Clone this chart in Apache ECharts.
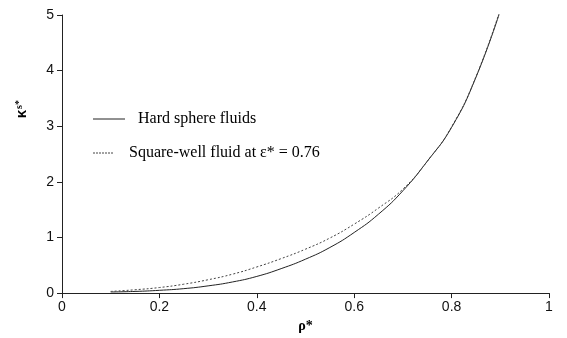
<!DOCTYPE html>
<html><head><meta charset="utf-8">
<script src="https://cdn.jsdelivr.net/npm/echarts@6/dist/echarts.min.js"></script>
<style>html,body{margin:0;padding:0;background:#fff}#c{width:567px;height:338px}</style>
</head><body><div id="c"></div>
<script>
var rho = [0.1,0.15,0.2,0.25,0.3,0.35,0.4,0.45,0.5,0.55,0.6,0.65,0.7,0.75,0.8,0.85,0.9];
var hardSphere = [0.02,0.03,0.05,0.08,0.13,0.20,0.30,0.44,0.61,0.82,1.09,1.42,1.84,2.37,2.98,3.88,5.08];
var squareWell = [0.03,0.06,0.10,0.16,0.24,0.34,0.47,0.62,0.79,0.99,1.24,1.53,1.87,2.37,2.99,3.89,5.10];
var xTicks = [0,0.2,0.4,0.6,0.8,1];
var yTicks = [0,1,2,3,4,5];
var names = ['Hard sphere fluids','Square-well fluid at \u03b5* = 0.76'];

function pairs(xs, ys){ return xs.map(function(x,i){return [x, ys[i]];}); }
var chart = echarts.init(document.getElementById('c'));
chart.setOption({
  animation:false,
  backgroundColor:'#fff',
  grid:{left:62,right:18,top:15,bottom:40},
  xAxis:{type:'value',min:0,max:1,interval:0.2,
    name:'\u03c1*',nameLocation:'middle',nameGap:20,
    nameTextStyle:{fontFamily:'Liberation Serif',fontWeight:'bold',fontSize:14,color:'#000'},
    axisLine:{lineStyle:{color:'#222',width:1}},
    axisTick:{show:true,inside:false,length:5,lineStyle:{color:'#222'}},
    axisLabel:{fontFamily:'Liberation Sans',fontSize:14,color:'#111',margin:7,
      formatter:function(v){return xTicks.indexOf(v)>=0?String(v):'';}},
    splitLine:{show:false}},
  yAxis:{type:'value',min:0,max:5,interval:1,
    axisLine:{show:true,lineStyle:{color:'#222',width:1}},
    axisTick:{show:true,length:5,lineStyle:{color:'#222'}},
    axisLabel:{fontFamily:'Liberation Sans',fontSize:14,color:'#111',margin:8,
      formatter:function(v){return yTicks.indexOf(v)>=0?String(v):'';}},
    splitLine:{show:false}},
  graphic:[
    {type:'text',left:14,top:100,rotation:Math.PI/2,
     style:{text:'{k|\u03ba}{s|s*}',rich:{k:{fontFamily:'Liberation Sans',fontWeight:'bold',fontSize:15,fill:'#000'},
      s:{fontFamily:'Liberation Serif',fontWeight:'bold',fontSize:10,fill:'#000',verticalAlign:'top',padding:[0,0,6,1]}}}},
    {type:'line',shape:{x1:93,y1:119,x2:125,y2:119},style:{stroke:'#222',lineWidth:1}},
    {type:'text',x:138,y:119,style:{text:names[0],fontFamily:'Liberation Serif',fontSize:16,fill:'#000',verticalAlign:'middle'}},
    {type:'line',shape:{x1:93,y1:153,x2:114,y2:153},style:{stroke:'#444',lineWidth:1,lineDash:[2,1]}},
    {type:'text',x:129,y:153,style:{text:names[1],fontFamily:'Liberation Serif',fontSize:16,fill:'#000',verticalAlign:'middle'}}
  ],
  series:[
    {name:names[0],type:'line',data:pairs(rho,hardSphere),smooth:true,symbol:'none',
     lineStyle:{color:'#222',width:1,type:'solid'},itemStyle:{color:'#222'}},
    {name:names[1],type:'line',data:pairs(rho,squareWell),smooth:true,symbol:'none',
     lineStyle:{color:'#444',width:1,type:[2,2]},itemStyle:{color:'#444'}}
  ]
});
</script></body></html>
